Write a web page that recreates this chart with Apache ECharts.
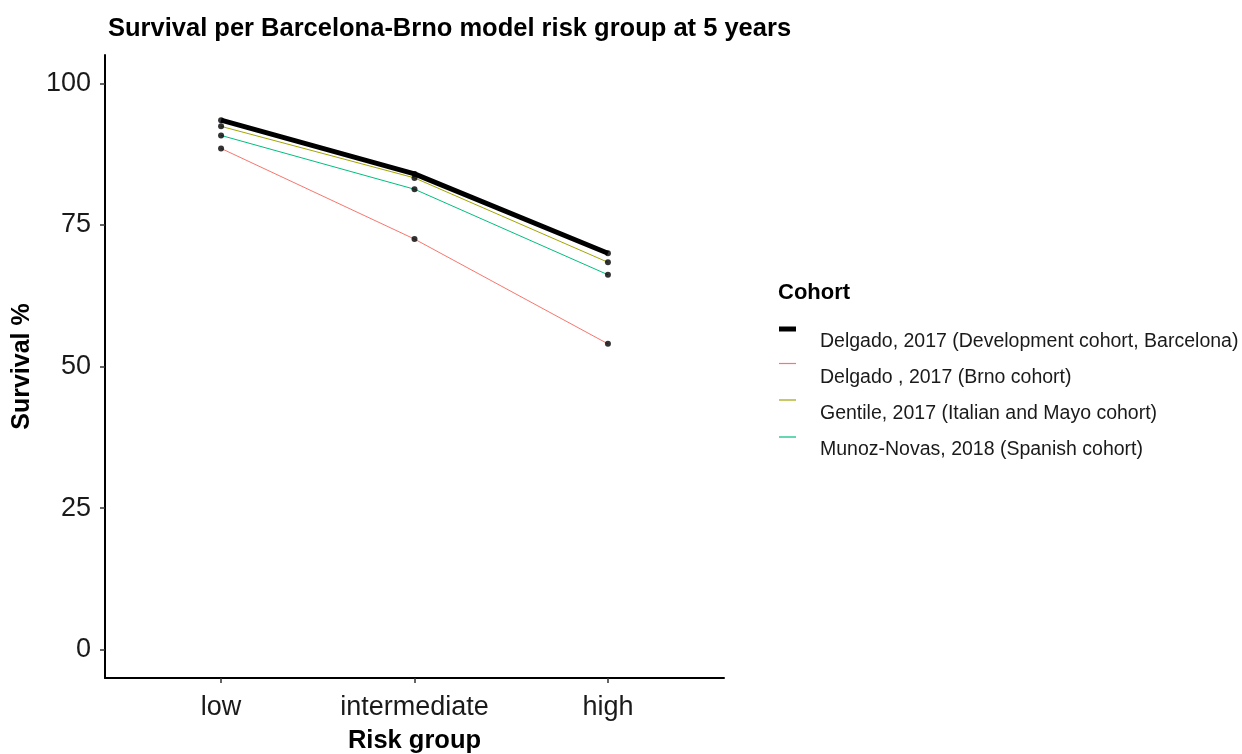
<!DOCTYPE html>
<html>
<head>
<meta charset="utf-8">
<script src="https://cdn.jsdelivr.net/npm/echarts@6/dist/echarts.min.js"></script>
<style>html,body{margin:0;padding:0;background:#fff;overflow:hidden}#c{width:1242px;height:754px}</style>
</head>
<body>
<div id="c"></div>
<script>
var categories = ['low', 'intermediate', 'high'];
var yTicks = [0, 25, 50, 75, 100];
var cohorts = [
  'Delgado, 2017 (Development cohort, Barcelona)',
  'Delgado , 2017 (Brno cohort)',
  'Gentile, 2017 (Italian and Mayo cohort)',
  'Munoz-Novas, 2018 (Spanish cohort)'
];
var barcelona = [93.5, 84.0, 70.0];
var brno = [88.5, 72.5, 54.0];
var gentile = [92.4, 83.3, 68.4];
var munoz = [90.8, 81.3, 66.2];

var seriesValues = [barcelona, brno, gentile, munoz];
var colors = ['#000000', '#F8766D', '#A3A500', '#00BF7D'];
var widths = [5, 1, 1, 1];
var FONT = 'Liberation Sans, Arial, sans-serif';

function toPoints(vals) {
  return vals.map(function (v, i) { return [i + 1, v]; });
}

var series = [];
seriesValues.forEach(function (vals, k) {
  series.push({
    name: cohorts[k],
    type: 'line',
    data: toPoints(vals),
    showSymbol: false,
    symbol: 'none',
    itemStyle: { color: colors[k] },
    lineStyle: { color: colors[k], width: widths[k] },
    z: 2,
    silent: true,
    animation: false
  });
});
seriesValues.forEach(function (vals, k) {
  series.push({
    name: 'pts' + k,
    type: 'scatter',
    data: toPoints(vals),
    symbol: 'circle',
    symbolSize: 6,
    itemStyle: { color: '#000' },
    z: 5,
    silent: true,
    animation: false
  });
});

// legend keys: one small legend per cohort so each key sits exactly
var keyCenters = [329, 363.5, 400, 437];
var legends = cohorts.map(function (n, k) {
  var h = k === 0 ? 5 : 1.2;
  return {
    orient: 'vertical',
    left: 779, top: keyCenters[k] - h / 2,
    padding: 0,
    itemWidth: 17,
    itemHeight: 5,
    textStyle: { fontSize: 1, lineHeight: 1 },
    formatter: function () { return ''; },
    selectedMode: false,
    data: [{ name: n, icon: k === 0 ? 'path://M0,0H17V5H0Z' : 'path://M0,0H17V1.2H0Z', itemStyle: { color: colors[k] } }]
  };
});
legends.push({
  orient: 'vertical',
  left: 815, top: 332,
  padding: 0,
  itemWidth: 0,
  itemHeight: 0,
  itemGap: 15.8,
  textGap: 0,
  textStyle: { fontSize: 19.5, lineHeight: 20, color: '#1a1a1a', fontFamily: FONT },
  selectedMode: false,
  data: cohorts.map(function (n) {
    return { name: n, icon: 'path://M0,0H1V1H0Z', itemStyle: { color: 'rgba(0,0,0,0)' } };
  })
});

var dom = document.getElementById('c');
var chart = echarts.init(dom, null, { renderer: 'canvas', width: 1242, height: 754 });
chart.setOption({
  animation: false,
  backgroundColor: '#fff',
  textStyle: { fontFamily: FONT },
  title: [
    {
      text: 'Survival per Barcelona-Brno model risk group at 5 years',
      left: 103, top: 11,
      textStyle: { fontSize: 25.5, fontWeight: 'bold', color: '#000', fontFamily: FONT }
    },
    {
      text: 'Cohort',
      left: 773, top: 277,
      textStyle: { fontSize: 22, fontWeight: 'bold', color: '#000', fontFamily: FONT }
    }
  ],
  legend: legends,
  grid: { left: 105, right: 518, top: 55, bottom: 76, containLabel: false, outerBoundsMode: 'none' },
  xAxis: {
    type: 'value',
    min: 0.4, max: 3.6,
    name: 'Risk group',
    nameLocation: 'middle',
    nameGap: 50,
    nameTextStyle: { fontSize: 25.5, fontWeight: 'bold', color: '#000', fontFamily: FONT },
    splitLine: { show: false },
    axisLine: { show: true, onZero: false, lineStyle: { color: '#000', width: 2 } },
    axisTick: { show: true, length: 5, lineStyle: { color: '#333', width: 1.5 }, customValues: [1, 2, 3] },
    axisLabel: {
      customValues: [1, 2, 3],
      fontSize: 27, color: '#1a1a1a', margin: 16, fontFamily: FONT,
      formatter: function (v) { return categories[Math.round(v) - 1] || ''; }
    }
  },
  yAxis: {
    type: 'value',
    min: -5, max: 105,
    name: 'Survival %',
    nameLocation: 'middle',
    nameGap: 70,
    nameRotate: 90,
    nameTextStyle: { fontSize: 25, fontWeight: 'bold', color: '#000', fontFamily: FONT },
    splitLine: { show: false },
    axisLine: { show: true, onZero: false, lineStyle: { color: '#000', width: 2 } },
    axisTick: { show: true, length: 5, lineStyle: { color: '#333', width: 1.5 }, customValues: yTicks },
    axisLabel: { customValues: yTicks, fontSize: 27, color: '#1a1a1a', margin: 14, fontFamily: FONT }
  },
  series: series
});
</script>
</body>
</html>
